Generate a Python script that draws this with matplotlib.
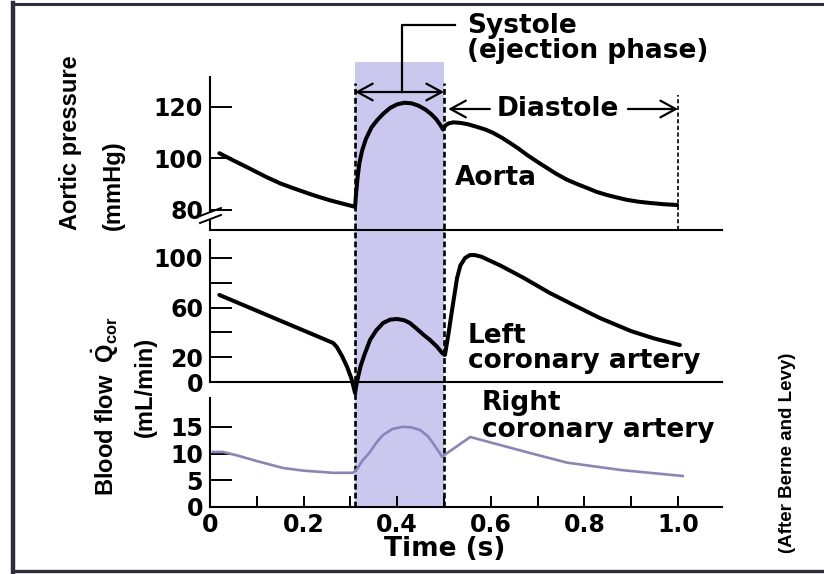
import numpy as np
import matplotlib
matplotlib.use('Agg')
import matplotlib.pyplot as plt
import matplotlib.transforms as mtransforms
from matplotlib.lines import Line2D
from matplotlib.patches import Rectangle

plt.rcParams['font.family'] = ['DejaVu Sans']
plt.rcParams['font.weight'] = 'bold'
plt.rcParams['mathtext.fontset'] = 'custom'
plt.rcParams['mathtext.rm'] = 'Liberation Sans:bold'
plt.rcParams['mathtext.it'] = 'Liberation Sans:italic'
narrow = ['Liberation Sans', 'DejaVu Sans']

# values (time in s)
aorta_t = [0.02, 0.05, 0.08, 0.12, 0.15, 0.18, 0.21, 0.23, 0.255, 0.278, 0.295,
           0.31, 0.312, 0.315, 0.319, 0.325, 0.333, 0.345, 0.357, 0.37, 0.385,
           0.40, 0.415, 0.43, 0.445, 0.46, 0.472, 0.483, 0.492, 0.498,
           0.503, 0.51, 0.52, 0.534, 0.55, 0.571, 0.59, 0.605, 0.623, 0.641,
           0.66, 0.677, 0.70, 0.72, 0.74, 0.763, 0.785, 0.806, 0.826, 0.848,
           0.87, 0.891, 0.915, 0.94, 0.97, 0.998]
aorta_p = [102, 99.2, 96.5, 92.8, 90.3, 88.3, 86.4, 85.2, 83.8, 82.7, 81.9,
           81.2, 86, 92, 98, 103, 107.5, 112, 114.8, 117.3, 119.6,
           121, 121.6, 121.4, 120.5, 119, 117.3, 115.3, 113, 111.2,
           112.8, 113.6, 114, 113.8, 113.3, 112.2, 111.1, 109.9, 108.1, 106.0,
           103.7, 101.4, 98.6, 96.3, 94, 91.7, 90, 88.5, 87, 85.8,
           84.8, 83.9, 83.2, 82.7, 82.2, 81.9]

left_t = [0.02, 0.263, 0.271, 0.282, 0.293, 0.302, 0.31, 0.313, 0.317, 0.322,
          0.33, 0.342, 0.355, 0.37, 0.385, 0.40, 0.415, 0.427, 0.44, 0.455,
          0.47, 0.485, 0.496, 0.502, 0.51, 0.518, 0.528, 0.535, 0.545, 0.555,
          0.565, 0.58, 0.60, 0.62, 0.67, 0.726, 0.78, 0.833, 0.90, 0.95, 1.004]
left_q = [70.2, 31.5, 28.2, 21, 12.1, 3, -8.9, -2, 5, 13,
          22, 33.9, 41.5, 47.6, 50.3, 50.8, 49.8, 47.6, 43.5, 38.5,
          33.9, 28.5, 23.4, 21.8, 40, 60, 84, 94, 100, 102.3,
          102.4, 101, 97.5, 94, 84, 71.8, 61.5, 51.6, 41, 35, 29.8]

right_t = [0.006, 0.028, 0.06, 0.10, 0.156, 0.20, 0.263, 0.306, 0.315, 0.325,
           0.342, 0.355, 0.37, 0.39, 0.412, 0.43, 0.449, 0.465, 0.476, 0.487,
           0.496, 0.502, 0.556, 0.62, 0.684, 0.763, 0.88, 1.01]
right_q = [10.3, 10.3, 9.6, 8.6, 7.3, 6.8, 6.4, 6.4, 7.2, 8.6,
           10.3, 12, 13.5, 14.6, 15.0, 14.9, 14.4, 13.3, 12.0, 10.6,
           9.4, 9.8, 13.1, 11.6, 10.1, 8.3, 6.9, 5.8]

aorta_ticks = [80, 100, 120]
left_ticks = [0, 20, 40, 60, 80, 100]
left_labels = ['0', '20', '', '60', '', '100']
right_ticks = [0, 5, 10, 15]
time_ticks = [0, 0.1, 0.2, 0.3, 0.4, 0.5, 0.6, 0.7, 0.8, 0.9, 1.0]
time_labels = ['0', '', '0.2', '', '0.4', '', '0.6', '', '0.8', '', '1.0']

systole = (0.31, 0.50)
cycle_end = 1.0

W, H = 824, 574
fig = plt.figure(figsize=(W / 100, H / 100), dpi=100)


def fy(y):
    return 1 - y / H


def box(top, bottom):
    return [210 / W, 1 - bottom / H, 512 / W, (bottom - top) / H]


ax1 = fig.add_axes(box(77, 230))
ax2 = fig.add_axes(box(240, 382))
ax3 = fig.add_axes(box(398, 507))

for ax in (ax1, ax2, ax3):
    ax.set_facecolor('none')
    ax.set_xlim(0, 1.094)
    for s in ('top', 'right'):
        ax.spines[s].set_visible(False)
    for s in ('left', 'bottom'):
        ax.spines[s].set_linewidth(1.5)
    ax.tick_params(axis='y', direction='in', length=16, width=1.4,
                   labelsize=17, pad=5)
for ax in (ax1, ax2):
    ax.tick_params(axis='x', bottom=False, labelbottom=False)

ax1.set_ylim(72.2, 131.6)
ax1.set_yticks(aorta_ticks)
ax2.set_ylim(0, 114.5)
ax2.set_yticks(left_ticks)
ax2.set_yticklabels(left_labels)
ax3.set_ylim(0, 20.4)
ax3.set_yticks(right_ticks)
ax3.set_xticks(time_ticks)
ax3.set_xticklabels(time_labels)
ax3.tick_params(axis='x', direction='in', length=8, width=1.4,
                labelsize=17, pad=4)

ax1.plot(aorta_t, aorta_p, color='black', lw=2.9, solid_joinstyle='round',
         solid_capstyle='round', clip_on=False)
ax2.plot(left_t, left_q, color='black', lw=2.9, solid_joinstyle='round',
         solid_capstyle='round', clip_on=False)
ax3.plot(right_t, right_q, color='#8a84bc', lw=1.9, solid_joinstyle='round',
         clip_on=False)

# systole shading and phase markers
tr3 = mtransforms.blended_transform_factory(ax3.transData, fig.transFigure)
tr1 = mtransforms.blended_transform_factory(ax1.transData, fig.transFigure)
fig.add_artist(Rectangle((systole[0], fy(507)), systole[1] - systole[0],
                         (507 - 62) / H, transform=tr3, facecolor='#cbc8ef',
                         edgecolor='none', zorder=-2))
for x in systole:
    fig.add_artist(Line2D([x, x], [fy(507), fy(83)], transform=tr3,
                          color='black', lw=1.9, ls=(0, (2.2, 1.2)), zorder=-1))
fig.add_artist(Line2D([cycle_end, cycle_end], [fy(230), fy(95)], transform=tr1,
                      color='black', lw=1.2, ls=(0, (2.5, 1.5)), zorder=-1))

arrow = dict(arrowstyle='->,head_length=0.55,head_width=0.3', lw=1.6,
             color='black', shrinkA=0, shrinkB=0, mutation_scale=20)
ax1.annotate('', xy=(systole[0], fy(92)), xytext=(0.41, fy(92)),
             xycoords=tr1, textcoords=tr1, arrowprops=arrow)
ax1.annotate('', xy=(systole[1], fy(92)), xytext=(0.41, fy(92)),
             xycoords=tr1, textcoords=tr1, arrowprops=arrow)
fig.add_artist(Line2D([0.41, 0.41, 0.523], [fy(92), fy(25), fy(25)],
                      transform=tr1, color='black', lw=1.6))
ax1.annotate('', xy=(0.509, fy(109)), xytext=(0.598, fy(109)),
             xycoords=tr1, textcoords=tr1, arrowprops=arrow)
ax1.annotate('', xy=(cycle_end, fy(109)), xytext=(0.893, fy(109)),
             xycoords=tr1, textcoords=tr1, arrowprops=arrow)

# axis break on the pressure axis
fig.add_artist(Rectangle((206 / W, fy(219)), 8 / W, 7 / H, facecolor='white',
                         edgecolor='none', zorder=5))
for y0 in (216, 223):
    fig.add_artist(Line2D([200 / W, 221 / W], [fy(y0), fy(y0 - 8)],
                          color='black', lw=1.4, zorder=6))

# labels
txt = dict(fontsize=19, color='black')
fig.text(467 / W, fy(33), 'Systole', **txt)
fig.text(467 / W, fy(58), '(ejection phase)', **txt)
fig.text(497 / W, fy(116), 'Diastole', **txt)
fig.text(455 / W, fy(185), 'Aorta', **txt)
fig.text(468 / W, fy(343), 'Left', **txt)
fig.text(468 / W, fy(368), 'coronary artery', **txt)
fig.text(482 / W, fy(410), 'Right', **txt)
fig.text(482 / W, fy(437), 'coronary artery', **txt)
fig.text(445 / W, fy(556), 'Time (s)', ha='center', fontsize=19)

lab = dict(rotation=90, ha='center', fontsize=17, family=narrow,
           weight='bold')
fig.text(70 / W, fy(230), 'Aortic pressure', va='bottom', **lab)
fig.text(113 / W, fy(230), '(mmHg)', va='bottom', **lab)
fig.text(105 / W, fy(406), r'Blood flow  $\dot{\mathrm{Q}}_{\mathrm{cor}}$',
         va='center', **lab)
fig.text(145 / W, fy(387), '(mL/min)', va='center', **lab)
fig.text(787 / W, fy(453), '(After Berne and Levy)', rotation=90,
         ha='center', va='center', fontsize=13.5, family=narrow,
         weight='bold')

# frame
frame = '#2e2e3a'
fig.add_artist(Line2D([13 / W, 13 / W], [fy(3), fy(572)], color=frame, lw=3.2))
fig.add_artist(Line2D([13 / W, 1], [fy(3.5), fy(3.5)], color=frame, lw=2.2))
fig.add_artist(Line2D([13 / W, 1], [fy(571), fy(571)], color=frame, lw=2.4))

fig.savefig('out.png', dpi=100)
